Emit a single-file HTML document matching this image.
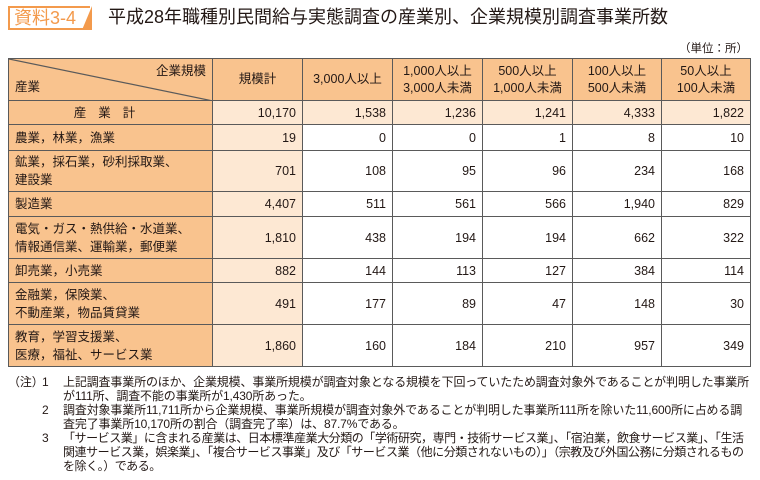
<!DOCTYPE html>
<html><head><meta charset="utf-8"><style>
*{margin:0;padding:0;box-sizing:border-box}
body{width:760px;height:480px;background:#fff;font-family:"Liberation Sans","Noto Sans CJK JP",sans-serif;color:#231815;position:relative;overflow:hidden}
.badge{position:absolute;left:8px;top:6px;width:82px;height:24px;border:2px solid #f39a4c;border-right:none;color:#f39a4c;font-size:18px;line-height:20px;padding-left:4px;background:#fff}
.badge:after{content:"";position:absolute;right:-2px;top:-2px;border-top:24px solid transparent;border-right:10px solid #f39a4c}
.title{position:absolute;left:108px;top:5px;font-size:18px;line-height:24px;letter-spacing:0px}
.unit{position:absolute;right:12px;top:40px;font-size:11.5px}
table{position:absolute;left:8px;top:58px;width:742px;border-collapse:collapse;table-layout:fixed;font-size:12.5px}
td,th{border:1.5px solid #5a5a5a;font-weight:normal;padding:0 6px}
th{background:#f9c38e;text-align:center;line-height:17px}
td.cat{background:#f9c38e;text-align:left;line-height:18px;padding-left:6px;white-space:nowrap}
td.n{text-align:right}
td.tot{background:#fde8d3}
tr.sum td{background:#fde8d3}
tr.sum td.cat{background:#f9c38e;text-align:center;letter-spacing:12px}
.notes{position:absolute;left:8px;top:375px;font-size:12px;line-height:14px;width:750px;letter-spacing:-0.15px;white-space:nowrap}
.notes div{position:relative;padding-left:55px}
.notes .k{position:absolute;left:0}
.notes .num{position:absolute;left:34px}
.notes .n3{letter-spacing:-0.45px}
</style></head><body>
<div class="badge">資料3-4</div>
<div class="title">平成28年職種別民間給与実態調査の産業別、企業規模別調査事業所数</div>
<div class="unit">（単位：所）</div>
<table>
<colgroup><col style="width:204px"><col style="width:90px"><col style="width:90px"><col style="width:90px"><col style="width:90px"><col style="width:89px"><col style="width:89px"></colgroup>
<tr style="height:42px">
<th style="position:relative;padding:0">
<svg width="204" height="42" style="position:absolute;left:0;top:0"><line x1="0" y1="0" x2="204" y2="42" stroke="#5a5a5a" stroke-width="1.2"/></svg>
<span style="position:absolute;right:6px;top:4px">企業規模</span><span style="position:absolute;left:6px;bottom:4px">産業</span></th>
<th>規模計</th>
<th>3,000人以上</th>
<th>1,000人以上<br>3,000人未満</th>
<th>500人以上<br>1,000人未満</th>
<th>100人以上<br>500人未満</th>
<th>50人以上<br>100人未満</th></tr>
<tr class="sum" style="height:24px"><td class="cat">産業計</td><td class="n">10,170</td><td class="n">1,538</td><td class="n">1,236</td><td class="n">1,241</td><td class="n">4,333</td><td class="n">1,822</td></tr>
<tr style="height:26px"><td class="cat">農業，林業，漁業</td><td class="n tot">19</td><td class="n">0</td><td class="n">0</td><td class="n">1</td><td class="n">8</td><td class="n">10</td></tr>
<tr style="height:41px"><td class="cat">鉱業，採石業，砂利採取業、<br>建設業</td><td class="n tot">701</td><td class="n">108</td><td class="n">95</td><td class="n">96</td><td class="n">234</td><td class="n">168</td></tr>
<tr style="height:25px"><td class="cat">製造業</td><td class="n tot">4,407</td><td class="n">511</td><td class="n">561</td><td class="n">566</td><td class="n">1,940</td><td class="n">829</td></tr>
<tr style="height:42px"><td class="cat">電気・ガス・熱供給・水道業、<br>情報通信業、運輸業，郵便業</td><td class="n tot">1,810</td><td class="n">438</td><td class="n">194</td><td class="n">194</td><td class="n">662</td><td class="n">322</td></tr>
<tr style="height:24px"><td class="cat">卸売業，小売業</td><td class="n tot">882</td><td class="n">144</td><td class="n">113</td><td class="n">127</td><td class="n">384</td><td class="n">114</td></tr>
<tr style="height:42px"><td class="cat">金融業，保険業、<br>不動産業，物品賃貸業</td><td class="n tot">491</td><td class="n">177</td><td class="n">89</td><td class="n">47</td><td class="n">148</td><td class="n">30</td></tr>
<tr style="height:42px"><td class="cat">教育，学習支援業、<br>医療，福祉、サービス業</td><td class="n tot">1,860</td><td class="n">160</td><td class="n">184</td><td class="n">210</td><td class="n">957</td><td class="n">349</td></tr>
</table>
<div class="notes">
<div><span class="k">（注）</span><span class="num">1</span>上記調査事業所のほか、企業規模、事業所規模が調査対象となる規模を下回っていたため調査対象外であることが判明した事業所<br>が111所、調査不能の事業所が1,430所あった。</div>
<div><span class="num">2</span>調査対象事業所11,711所から企業規模、事業所規模が調査対象外であることが判明した事業所111所を除いた11,600所に占める調<br>査完了事業所10,170所の割合（調査完了率）は、87.7%である。</div>
<div class="n3"><span class="num">3</span>「サービス業」に含まれる産業は、日本標準産業大分類の「学術研究，専門・技術サービス業」、「宿泊業，飲食サービス業」、「生活<br>関連サービス業，娯楽業」、「複合サービス事業」及び「サービス業（他に分類されないもの）」（宗教及び外国公務に分類されるもの<br>を除く。）である。</div>
</div>
</body></html>
